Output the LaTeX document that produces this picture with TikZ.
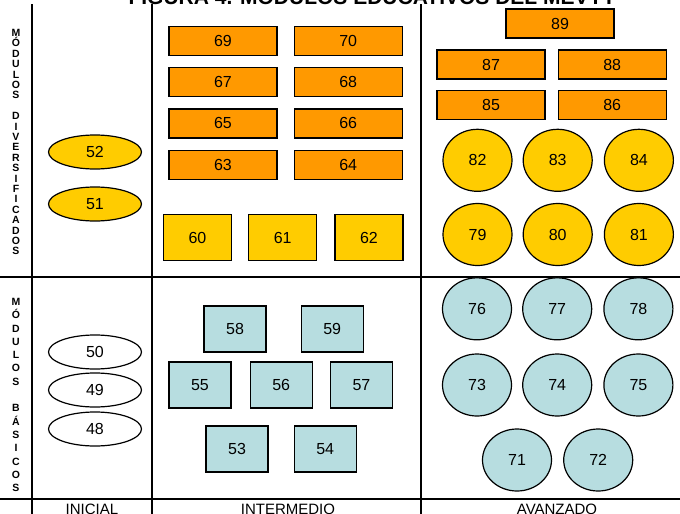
\documentclass[tikz,border=0pt]{standalone}
\usepackage{fontspec}
\setmainfont{Liberation Sans}
\usetikzlibrary{shapes.geometric,positioning}

\definecolor{naranja}{HTML}{FF9900}
\definecolor{amarillo}{HTML}{FFCC00}
\definecolor{celeste}{HTML}{B7DDE0}

\begin{document}
\begin{tikzpicture}[x=1pt, y=-1pt, node distance = 11pt and 16pt,
    modulo/.style={draw, line width=1.2pt, inner sep=0pt, font=\fontsize{16}{18}\selectfont},
    barra/.style={modulo, rectangle, fill=naranja, minimum width=108pt, minimum height=29pt},
    caja/.style={modulo, rectangle, fill=amarillo, minimum width=68pt, minimum height=46pt},
    cajab/.style={modulo, rectangle, fill=celeste, minimum width=62pt, minimum height=46pt},
    bola/.style={modulo, ellipse, fill=amarillo, minimum width=69pt, minimum height=62pt},
    bolab/.style={bola, fill=celeste},
    ovalo/.style={modulo, ellipse, fill=white, minimum width=93pt, minimum height=34pt},
    letras/.style={font=\bfseries\fontsize{10.5}{10.4}\selectfont, align=center, inner sep=0pt},
    nivel/.style={font=\fontsize{15}{16}\selectfont, anchor=base, inner sep=0pt},
    linea/.style={line width=1.5pt}]
    \useasboundingbox (0,0) rectangle (680,514);

    % titulo (cortado por el borde)
    \node[anchor=base, inner sep=0pt, font=\bfseries\fontsize{21}{24}\selectfont] (titulo) at (372,5) {FIGURA 4. MÓDULOS EDUCATIVOS DEL MEVYT};

    % cuadricula
    \coordinate (a1) at (32,4);   \coordinate (a2) at (32,514);
    \coordinate (b1) at (152,4);  \coordinate (b2) at (152,514);
    \coordinate (c1) at (421,4);  \coordinate (c2) at (421,514);
    \coordinate (h1) at (0,277);  \coordinate (h2) at (680,277);
    \coordinate (k1) at (0,499);  \coordinate (k2) at (680,499);
    \draw[linea] (a1) -- (a2);
    \draw[linea] (b1) -- (b2);
    \draw[linea] (c1) -- (c2);
    \draw[linea] (h1) -- (h2);
    \draw[linea] (k1) -- (k2);

    % rotulos
    \node[letras, anchor=north] (diver) at (16,29) {M\\Ó\\D\\U\\L\\O\\S\\~\\D\\I\\V\\E\\R\\S\\I\\F\\I\\C\\A\\D\\O\\S};
    \node[letras, anchor=north, font=\bfseries\fontsize{10.5}{13.3}\selectfont] (basic) at (16,298) {M\\Ó\\D\\U\\L\\O\\S\\~\\B\\Á\\S\\I\\C\\O\\S};
    \node[nivel] (inicial) at (92,514) {INICIAL};
    \node[nivel] (interm) at (288,514) {INTERMEDIO};
    \node[nivel] (avanz) at (557,514) {AVANZADO};

    % inicial
    \node[ovalo, fill=amarillo] (m52) at (95,152) {52};
    \node[ovalo, fill=amarillo] (m51) at (95,204) {51};
    \node[ovalo] (m50) at (95,352) {50};
    \node[ovalo] (m49) at (95,390) {49};
    \node[ovalo] (m48) at (95,429) {48};

    % intermedio
    \node[barra] (m69) at (223,41) {69};
    \node[barra, right=of m69] (m70) {70};
    \node[barra, below=of m69] (m67) {67};
    \node[barra, right=of m67] (m68) {68};
    \node[barra, below=of m67] (m65) {65};
    \node[barra, right=of m65] (m66) {66};
    \node[barra, below=of m65] (m63) {63};
    \node[barra, right=of m63] (m64) {64};
    \node[caja] (m60) at (197.5,237.5) {60};
    \node[caja, right=of m60] (m61) {61};
    \node[caja, right=17pt of m61] (m62) {62};
    \node[cajab] (m58) at (235,329) {58};
    \node[cajab, right=34pt of m58] (m59) {59};
    \node[cajab] (m55) at (200,385) {55};
    \node[cajab, right=18pt of m55] (m56) {56};
    \node[cajab, right=17pt of m56] (m57) {57};
    \node[cajab] (m53) at (237,449) {53};
    \node[cajab, right=25pt of m53] (m54) {54};

    % avanzado
    \node[barra] (m89) at (560,23.5) {89};
    \node[barra] (m87) at (491,64.5) {87};
    \node[barra, right=12pt of m87] (m88) {88};
    \node[barra, below=10pt of m87] (m85) {85};
    \node[barra, right=12pt of m85] (m86) {86};
    \node[bola] (m79) at (477.5,234.5) {79};
    \node[bola, right=10pt of m79] (m80) {80};
    \node[bola, right=11pt of m80] (m81) {81};
    \node[bola, above=11pt of m79] (m82) {82};
    \node[bola, right=10pt of m82] (m83) {83};
    \node[bola, right=11pt of m83] (m84) {84};
    \node[bolab] (m73) at (477,385) {73};
    \node[bolab, right=10pt of m73] (m74) {74};
    \node[bolab, right=11pt of m74] (m75) {75};
    \node[bolab, above=13pt of m73] (m76) {76};
    \node[bolab, right=10pt of m76] (m77) {77};
    \node[bolab, right=11pt of m77] (m78) {78};
    \node[bolab] (m71) at (517,460) {71};
    \node[bolab, right=11pt of m71] (m72) {72};
\end{tikzpicture}
\end{document}
